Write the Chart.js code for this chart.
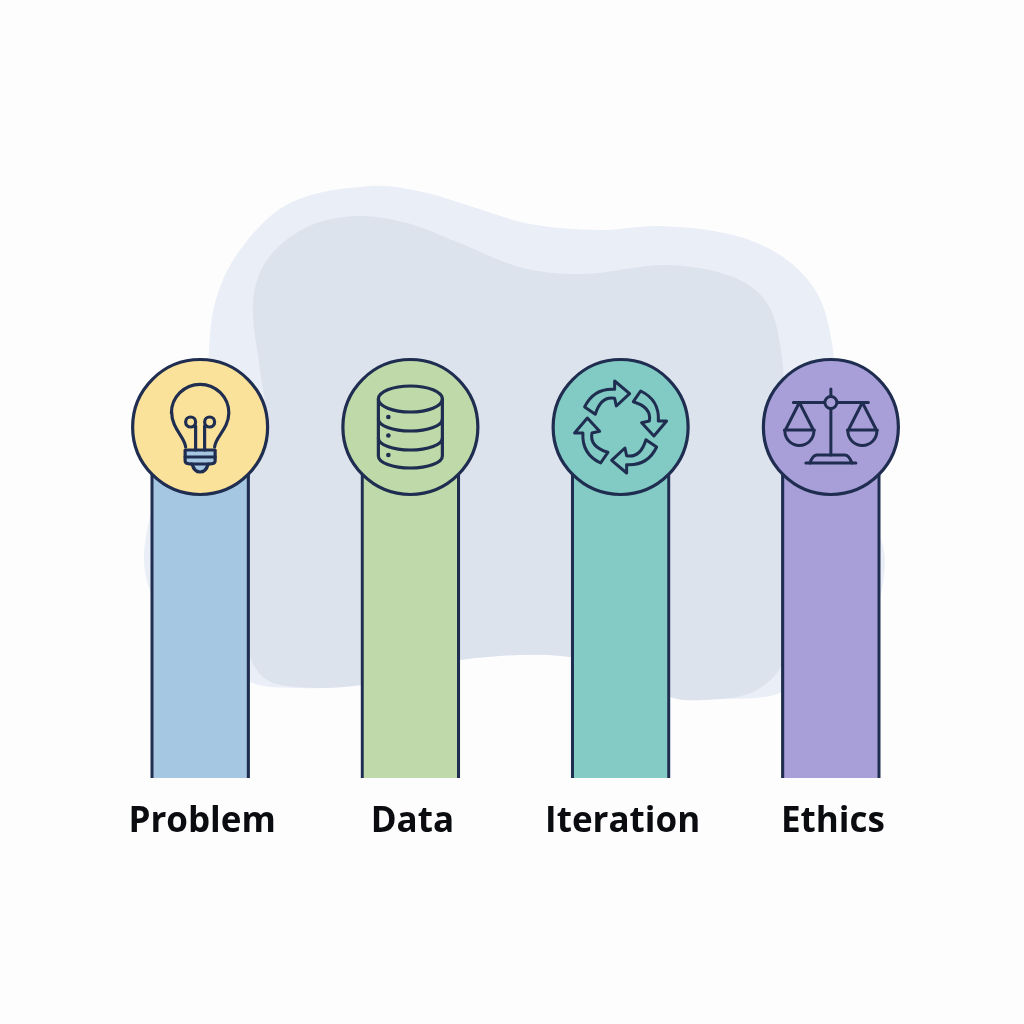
<!DOCTYPE html>
<html>
<head>
<meta charset="utf-8">
<style>html,body{margin:0;padding:0;background:#fdfdfe}canvas{display:block}</style>
<script src="https://cdn.jsdelivr.net/npm/chart.js@4"></script>
</head>
<body>
<canvas id="c" width="1024" height="1024"></canvas>
<script>
const categories = ["Problem", "Data", "Iteration", "Ethics"];
const barValues = [50, 50, 50, 50];
const markerValues = [50, 50, 50, 50];
const barColors = ["#a6c7e2", "#bfd9ab", "#84cac5", "#a99fd8"];
const markerColors = ["#fbe29b", "#bfd9a9", "#82cbc4", "#a99fd8"];
const iconNames = ["bulb", "database", "cycle", "scales"];
const INK = "#1f2d50";

const outerBlob = [[208,370],[215,303],[240,250],[290,203],[370,186],[423,192],[473,207],[530,224],[600,230],[660,226],[733,235],[783,257],[817,293],[832,343],[840,430],[865,500],[885,563],[860,640],[783,692],[720,699],[670,697],[620,670],[570,657],[520,655],[460,660],[400,672],[361,685],[297,688],[250,682],[185,640],[150,590],[145,543],[165,480],[205,440]];
const innerBlob = [[260,370],[253,303],[267,260],[307,227],[357,216],[407,223],[457,242],[523,268],[583,274],[667,265],[733,277],[767,303],[781,350],[786,420],[795,500],[798,600],[783,663],[753,692],[703,700],[670,697],[620,670],[570,657],[520,655],[460,660],[400,672],[361,685],[297,687],[263,677],[245,640],[240,570],[245,480],[265,420]];

function smoothClosed(ctx, pts) {
  const n = pts.length;
  const tangent = i => {
    const a = pts[(i - 1 + n) % n], b = pts[(i + 1) % n];
    const dx = b[0] - a[0], dy = b[1] - a[1], d = Math.hypot(dx, dy) || 1;
    return [dx / d, dy / d];
  };
  ctx.beginPath();
  ctx.moveTo(pts[0][0], pts[0][1]);
  for (let i = 0; i < n; i++) {
    const j = (i + 1) % n, p1 = pts[i], p2 = pts[j];
    const len = Math.hypot(p2[0] - p1[0], p2[1] - p1[1]) / 3;
    const t1 = tangent(i), t2 = tangent(j);
    ctx.bezierCurveTo(p1[0] + t1[0] * len, p1[1] + t1[1] * len,
                      p2[0] - t2[0] * len, p2[1] - t2[1] * len, p2[0], p2[1]);
  }
  ctx.closePath();
}

const icons = {
  bulb(ctx) {
    ctx.lineWidth = 3.2;
    ctx.beginPath();
    ctx.moveTo(-14.5, 20);
    ctx.bezierCurveTo(-15, 10, -28.5, 2, -28.5, -15);
    ctx.arc(0, -14, 28.7, Math.PI, 0);
    ctx.bezierCurveTo(28.5, 2, 15, 10, 14.5, 20);
    ctx.stroke();
    // screw base
    ctx.beginPath();
    ctx.moveTo(-15, 23);
    ctx.lineTo(15, 23);
    ctx.lineTo(15, 34);
    ctx.quadraticCurveTo(15, 37, 9, 37);
    ctx.lineTo(8, 37);
    ctx.quadraticCurveTo(6, 45, 0, 45);
    ctx.quadraticCurveTo(-6, 45, -8, 37);
    ctx.lineTo(-9, 37);
    ctx.quadraticCurveTo(-15, 37, -15, 34);
    ctx.closePath();
    ctx.fillStyle = "#a6c7e2";
    ctx.fill();
    ctx.stroke();
    ctx.beginPath();
    ctx.moveTo(-15, 30); ctx.lineTo(15, 30);
    ctx.moveTo(-9, 37); ctx.lineTo(9, 37);
    ctx.stroke();
    // filament
    ctx.beginPath();
    ctx.moveTo(-4.5, 23); ctx.lineTo(-4.5, -1);
    ctx.moveTo(4.5, 23); ctx.lineTo(4.5, -1);
    ctx.stroke();
    ctx.beginPath();
    ctx.arc(-9.5, -5, 5, 0, Math.PI * 2);
    ctx.stroke();
    ctx.beginPath();
    ctx.arc(9.5, -5, 5, 0, Math.PI * 2);
    ctx.stroke();
  },
  database(ctx) {
    ctx.lineWidth = 3.2;
    const rx = 32, ry = 13, top = -28, bottom = 29;
    ctx.beginPath();
    ctx.ellipse(0, top, rx, ry, 0, 0, Math.PI * 2);
    ctx.stroke();
    ctx.beginPath();
    ctx.moveTo(-rx, top);
    ctx.lineTo(-rx, bottom);
    ctx.ellipse(0, bottom, rx, 12, 0, Math.PI, 0, true);
    ctx.lineTo(rx, top);
    ctx.stroke();
    [-8, 11].forEach(y => {
      ctx.beginPath();
      ctx.ellipse(0, y, rx, 12, 0, Math.PI, 0, true);
      ctx.stroke();
    });
    ctx.fillStyle = INK;
    [-10, 8.5, 28].forEach(y => {
      ctx.beginPath();
      ctx.arc(-22, y, 2.3, 0, Math.PI * 2);
      ctx.fill();
    });
  },
  cycle(ctx) {
    ctx.lineWidth = 3;
    ctx.lineJoin = "round";
    for (let i = 0; i < 4; i++) {
      ctx.save();
      ctx.rotate(i * Math.PI / 2);
      ctx.beginPath();
      ctx.moveTo(-36, -20);
      ctx.quadraticCurveTo(-27, -39, -6, -37.7);
      ctx.lineTo(-6, -46);
      ctx.lineTo(9, -33.3);
      ctx.lineTo(-4.3, -21);
      ctx.lineTo(-6, -28.7);
      ctx.quadraticCurveTo(-19.7, -31.3, -25.3, -12.7);
      ctx.closePath();
      ctx.stroke();
      ctx.restore();
    }
  },
  scales(ctx, fill) {
    ctx.lineWidth = 3;
    ctx.beginPath();
    ctx.moveTo(-37.5, -24.5); ctx.lineTo(37.5, -24.5);
    ctx.moveTo(0, -38); ctx.lineTo(0, -30);
    ctx.moveTo(0, -18.5); ctx.lineTo(0, 28);
    ctx.moveTo(-25, 36); ctx.lineTo(25, 36);
    ctx.stroke();
    ctx.beginPath();
    ctx.arc(0, -24.5, 6, 0, Math.PI * 2);
    ctx.fillStyle = fill;
    ctx.fill();
    ctx.stroke();
    ctx.beginPath();
    ctx.moveTo(-21, 36);
    ctx.quadraticCurveTo(-18, 28, -14, 28);
    ctx.lineTo(14, 28);
    ctx.quadraticCurveTo(18, 28, 21, 36);
    ctx.stroke();
    [-31.5, 31.5].forEach(x => {
      ctx.beginPath();
      ctx.moveTo(x - 14, 3); ctx.lineTo(x, -24.5); ctx.lineTo(x + 14, 3);
      ctx.moveTo(x - 15, 3); ctx.lineTo(x + 15, 3);
      ctx.stroke();
      ctx.beginPath();
      ctx.arc(x, 4, 14.5, 0, Math.PI);
      ctx.stroke();
    });
  }
};

const backdropPlugin = {
  id: "backdrop",
  beforeDatasetsDraw(chart) {
    const ctx = chart.ctx;
    ctx.save();
    ctx.fillStyle = "#eaeef6";
    smoothClosed(ctx, outerBlob);
    ctx.fill();
    ctx.fillStyle = "#dde3ed";
    smoothClosed(ctx, innerBlob);
    ctx.fill();
    ctx.restore();
  }
};

const iconPlugin = {
  id: "icons",
  afterDatasetsDraw(chart) {
    const ctx = chart.ctx;
    const meta = chart.getDatasetMeta(1);
    meta.data.forEach((pt, i) => {
      ctx.save();
      ctx.translate(pt.x, pt.y);
      ctx.strokeStyle = INK;
      ctx.fillStyle = INK;
      ctx.lineCap = "round";
      ctx.lineJoin = "round";
      icons[iconNames[i]](ctx, markerColors[i]);
      ctx.restore();
    });
  }
};

new Chart(document.getElementById("c"), {
  data: {
    labels: categories,
    datasets: [
      {
        type: "bar",
        data: barValues,
        backgroundColor: barColors,
        borderColor: INK,
        borderWidth: { top: 0, bottom: 0, left: 3.2, right: 3.2 },
        borderSkipped: false,
        barThickness: 99,
        order: 2
      },
      {
        type: "line",
        data: markerValues,
        showLine: false,
        clip: false,
        pointRadius: 67.5,
        pointHoverRadius: 67.5,
        pointBackgroundColor: markerColors,
        pointBorderColor: INK,
        pointBorderWidth: 3.2,
        order: 1
      }
    ]
  },
  plugins: [backdropPlugin, iconPlugin],
  options: {
    responsive: false,
    animation: false,
    devicePixelRatio: 1,
    layout: { padding: { top: 76, left: 95, right: 88, bottom: 0 } },
    plugins: { legend: { display: false }, tooltip: { enabled: false }, title: { display: false } },
    scales: {
      x: {
        grid: { display: false },
        border: { display: false },
        afterFit(scale) { scale.height = 246; },
        ticks: {
          padding: 15,
          labelOffset: 2,
          maxRotation: 0,
          color: "#0b0c0f",
          font: { family: "'Open Sans'", weight: "700", size: 35 }
        }
      },
      y: { display: false, min: 0, max: 100 }
    }
  }
});
</script>
</body>
</html>
